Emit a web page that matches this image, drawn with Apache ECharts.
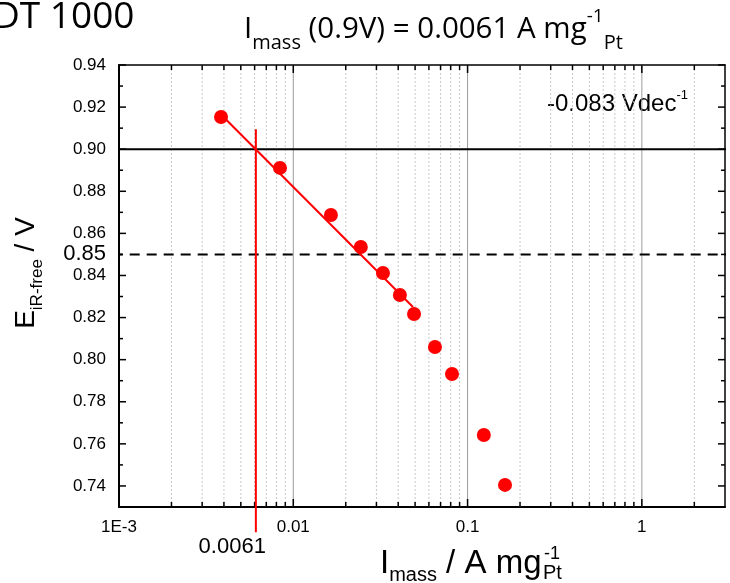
<!DOCTYPE html>
<html><head><meta charset="utf-8">
<script src="https://cdn.jsdelivr.net/npm/echarts@6/dist/echarts.min.js"></script>
<style>html,body{margin:0;padding:0;background:#fff}#c{width:730px;height:583px}</style>
</head><body><div id="c"></div>
<script>
// ---- data ----
const massActivity = [0.00385, 0.00839, 0.01644, 0.0244, 0.0327, 0.0409, 0.0493, 0.0650, 0.0814, 0.124, 0.164];
const potential    = [0.9153, 0.8911, 0.8687, 0.8535, 0.8412, 0.8307, 0.8217, 0.8060, 0.7932, 0.7642, 0.7405];
const fitX = [0.0039, 0.0486];
const fitY = [0.916, 0.825];
const imass09 = 0.0061;
const imassMarkerY = [0.9095, 0.718];
const refLineX = [0.000865, 3.2];
const dashLineX = [0.00092, 3.2];
const refPotential = 0.90;
const dashPotential = 0.85;
const xTickValues = [0.001, 0.01, 0.1, 1];
const xTickLabels = ['1E-3', '0.01', '0.1', '1'];
const xMinorValues = [0.002,0.003,0.004,0.005,0.006,0.007,0.008,0.009,
                      0.02,0.03,0.04,0.05,0.06,0.07,0.08,0.09,
                      0.2,0.3,0.4,0.5,0.6,0.7,0.8,0.9,2];
const xMajorValues = [0.01, 0.1, 1];
const yLabelValues = [0.74,0.76,0.78,0.80,0.82,0.84,0.86,0.88,0.90,0.92,0.94];
const yMinorValues = [0.73,0.75,0.77,0.79,0.81,0.83,0.85,0.87,0.89,0.91,0.93];
const yExtraLabel = 0.85;
const X_MIN = 0.001, X_MAX = 3, Y_MIN = 0.73, Y_MAX = 0.94;

const chart = echarts.init(document.getElementById('c'), null, {renderer: 'canvas'});
const AX = 'Liberation Sans';

function xTicksItem(params, api) {
  const x = api.value(0), kind = api.value(1);
  const t = api.coord([x, Y_MAX]), b = api.coord([x, Y_MIN]);
  const major = kind === 1;
  const len = major ? 8 : 5;
  return {type: 'group', children: [
    {type: 'line', shape: {x1: t[0], y1: t[1], x2: b[0], y2: b[1]},
     style: major ? {stroke: '#9a9a9a', lineWidth: 1} : {stroke: '#c8c8c8', lineWidth: 1, lineDash: [2, 2]}},
    {type: 'line', shape: {x1: b[0], y1: b[1], x2: b[0], y2: b[1] - len}, style: {stroke: '#000', lineWidth: 1.5}},
    {type: 'line', shape: {x1: t[0], y1: t[1], x2: t[0], y2: t[1] + len}, style: {stroke: '#000', lineWidth: 1.5}}
  ]};
}
function yTicksItem(params, api) {
  const y = api.value(1), kind = api.value(2);
  const l = api.coord([X_MIN, y]), r = api.coord([X_MAX, y]);
  const len = kind === 1 ? 7 : 4;
  return {type: 'group', children: [
    {type: 'line', shape: {x1: l[0], y1: l[1], x2: l[0] + len, y2: l[1]}, style: {stroke: '#000', lineWidth: 1.5}},
    {type: 'line', shape: {x1: r[0], y1: r[1], x2: r[0] - len, y2: r[1]}, style: {stroke: '#000', lineWidth: 1.5}}
  ]};
}

const xData = xMinorValues.map(v => [v, 0]).concat(xMajorValues.map(v => [v, 1]));
const yData = yLabelValues.map(v => [X_MIN, v, 1]).concat(yMinorValues.map(v => [X_MIN, v, 0]));

const option = {
  animation: false,
  backgroundColor: '#fff',
  grid: {left: 119, right: 5, top: 65, bottom: 76, containLabel: false},
  xAxis: [{
    type: 'log', logBase: 10, min: X_MIN, max: X_MAX, position: 'bottom',
    axisLine: {show: true, onZero: false, lineStyle: {color: '#000', width: 2}},
    axisTick: {show: false}, splitLine: {show: false}, minorTick: {show: false},
    axisLabel: {
      margin: 12, color: '#000', fontFamily: AX, fontSize: 17, showMinLabel: true, showMaxLabel: false,
      formatter: v => {
        const i = xTickValues.findIndex(t => Math.abs(Math.log10(t) - Math.log10(v)) < 1e-6);
        return i >= 0 ? xTickLabels[i] : '';
      }
    }
  }, {
    type: 'log', logBase: 10, min: X_MIN, max: X_MAX, position: 'top',
    axisLine: {show: true, onZero: false, lineStyle: {color: '#000', width: 1.5}},
    axisTick: {show: false}, axisLabel: {show: false}, splitLine: {show: false}
  }],
  yAxis: [{
    type: 'value', min: Y_MIN, max: Y_MAX, interval: 0.01, position: 'left',
    axisLine: {show: true, onZero: false, lineStyle: {color: '#000', width: 2}},
    axisTick: {show: false}, splitLine: {show: false},
    axisLabel: {
      margin: 13, color: '#000', fontFamily: AX, fontSize: 17,
      formatter: v => {
        if (Math.abs(v - yExtraLabel) < 1e-6) return '{big|' + yExtraLabel.toFixed(2) + '}';
        return yLabelValues.some(t => Math.abs(t - v) < 1e-6) ? v.toFixed(2) : '';
      },
      rich: {big: {fontSize: 22, fontFamily: AX, color: '#000'}}
    }
  }, {
    type: 'value', min: Y_MIN, max: Y_MAX, position: 'right',
    axisLine: {show: true, onZero: false, lineStyle: {color: '#000', width: 1.5}},
    axisTick: {show: false}, axisLabel: {show: false}, splitLine: {show: false}
  }],
  series: [
    {type: 'custom', coordinateSystem: 'cartesian2d', renderItem: xTicksItem, data: xData,
     encode: {x: 0}, silent: true, z: 1, clip: false},
    {type: 'custom', coordinateSystem: 'cartesian2d', renderItem: yTicksItem, data: yData,
     encode: {x: 0, y: 1}, silent: true, z: 1, clip: false},
    {type: 'line', data: refLineX.map(x => [x, refPotential]), symbol: 'none', clip: false, silent: true,
     lineStyle: {color: '#000', width: 2}, z: 3},
    {type: 'line', data: dashLineX.map(x => [x, dashPotential]), symbol: 'none', clip: false, silent: true,
     lineStyle: {color: '#000', width: 2, type: [10, 7]}, z: 3},
    {type: 'line', data: fitX.map((x, i) => [x, fitY[i]]), symbol: 'none', clip: false, silent: true,
     lineStyle: {color: '#ff0000', width: 2}, z: 4},
    {type: 'line', data: imassMarkerY.map(y => [imass09, y]),
     symbol: 'none', clip: false, silent: true,
     lineStyle: {color: '#ff0000', width: 2}, z: 4},
    {type: 'scatter', data: massActivity.map((x, i) => [x, potential[i]]), symbol: 'circle', symbolSize: 14,
     itemStyle: {color: '#ff0000', opacity: 1}, z: 5}
  ],
  graphic: [
    {type: 'text', left: -7, top: -1, style: {text: 'DT 1000', fontFamily: 'Open Sans', fontSize: 37, fill: '#000'}},
    {type: 'text', left: 244, top: 7, style: {
      text: '{b|I}{sub|mass}{b| (0.9V) = 0.0061 A mg}{sup|-1}{sub|Pt}',
      rich: {
        b: {fontFamily: 'Open Sans', fontSize: 29.5, lineHeight: 46, verticalAlign: 'middle', fill: '#000'},
        sub: {fontFamily: 'Open Sans', fontSize: 20, lineHeight: 25, verticalAlign: 'bottom', fill: '#000'},
        sup: {fontFamily: 'Open Sans', fontSize: 19, lineHeight: 25, verticalAlign: 'top', fill: '#000'}
      }}},
    {type: 'text', left: 547, top: 89, style: {
      text: '{b|-0.083 Vdec}{sup|-1}',
      rich: {
        b: {fontFamily: AX, fontSize: 24, lineHeight: 31, verticalAlign: 'middle', fill: '#000'},
        sup: {fontFamily: AX, fontSize: 13, lineHeight: 18, verticalAlign: 'top', fill: '#000'}
      }}},
    {type: 'text', x: 26, y: 273, rotation: Math.PI / 2, style: {
      text: '{b|E}{sub|iR-free}{b| / V}', align: 'center', verticalAlign: 'middle',
      rich: {
        b: {fontFamily: AX, fontSize: 28, lineHeight: 40, verticalAlign: 'middle', fill: '#000'},
        sub: {fontFamily: AX, fontSize: 17, lineHeight: 20, verticalAlign: 'bottom', fill: '#000'}
      }}},
    {type: 'group', x: 380, y: 543, children: [
      {type: 'text', style: {
        text: '{b|I}{sub|mass}{b| / A mg}',
        rich: {
          b: {fontFamily: AX, fontSize: 33, lineHeight: 42, verticalAlign: 'middle', fill: '#000'},
          sub: {fontFamily: AX, fontSize: 20, lineHeight: 22, verticalAlign: 'bottom', fill: '#000'}
        }}},
      {type: 'text', x: 164, y: 2, style: {text: '-1', fontFamily: AX, fontSize: 18, fill: '#000'}},
      {type: 'text', x: 163, y: 20, style: {text: 'Pt', fontFamily: AX, fontSize: 20, fill: '#000'}}
    ]}
  ]
};
chart.setOption(option);

// label for I_mass(0.9 V), placed through the chart's own coordinate conversion
const p = chart.convertToPixel({gridIndex: 0}, [imass09, imassMarkerY[1]]);
chart.setOption({graphic: option.graphic.concat([
  {type: 'text', x: p[0] + 10, y: p[1] + 4, style: {text: String(imass09), align: 'right', verticalAlign: 'top',
    fontFamily: AX, fontSize: 22, fill: '#000'}}
])}, {replaceMerge: ['graphic']});
</script></body></html>
